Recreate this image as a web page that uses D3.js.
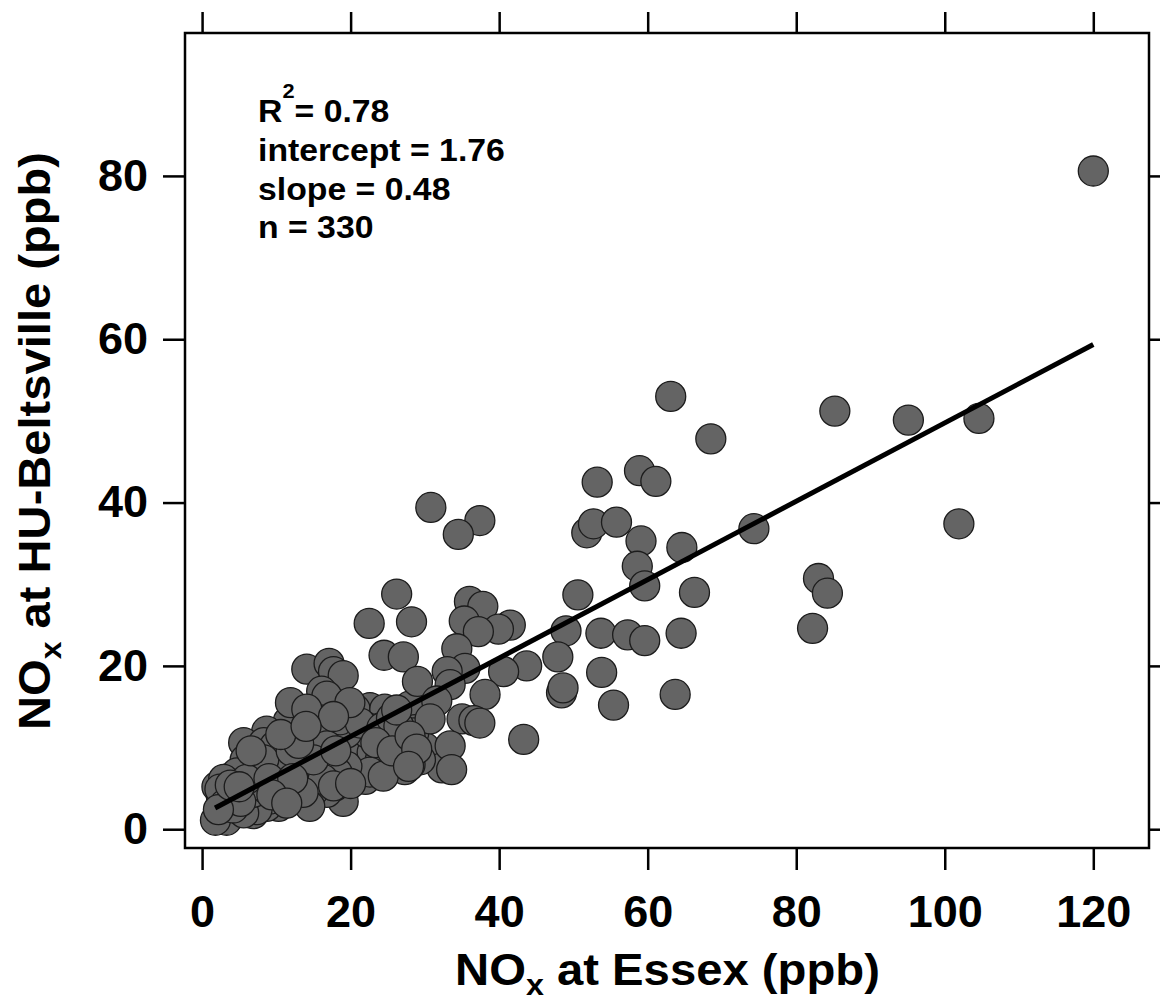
<!DOCTYPE html>
<html>
<head>
<meta charset="utf-8">
<script src="https://cdn.jsdelivr.net/npm/d3@7"></script>
<style>
  body { margin: 0; background: #fff; }
  text { font-family: "Liberation Sans", Arial, sans-serif; font-weight: bold; fill: #000; }
</style>
</head>
<body>
<svg width="1160" height="1003"></svg>
<script>
// [NOx at Essex, NOx at HU-Beltsville] in ppb
const highPoints = [
  [120.0, 80.6], [104.6, 50.3], [95.1, 50.1], [85.2, 51.2], [63.1, 53.0], [68.5, 47.8],
  [53.2, 42.5], [58.9, 43.9], [61.1, 42.6], [51.8, 36.3], [52.7, 37.4], [55.8, 37.6],
  [59.1, 35.3], [64.6, 34.5], [74.3, 36.8], [101.9, 37.4], [58.6, 32.2], [59.6, 29.8],
  [50.6, 28.7], [66.3, 29.0], [83.0, 30.7], [84.2, 28.9], [82.2, 24.6],
  [30.8, 39.4], [37.4, 37.8], [34.5, 36.1]
];

const midPoints = [
  [49.0, 24.3], [53.7, 24.0], [57.3, 23.8], [59.6, 23.1], [64.5, 24.0], [47.9, 21.1],
  [53.8, 19.2], [48.4, 16.7], [48.6, 17.3], [55.4, 15.2], [63.7, 16.5],
  [26.2, 28.8], [22.5, 25.2], [28.2, 25.4], [36.0, 27.9], [37.8, 27.3], [35.3, 25.5],
  [41.5, 25.0], [39.9, 24.5], [37.2, 24.2], [34.3, 22.1], [24.5, 21.3], [27.1, 21.1],
  [43.7, 20.0], [40.6, 19.3], [35.4, 19.7], [33.0, 19.3], [29.0, 18.1], [38.1, 16.5],
  [33.4, 17.7], [31.6, 15.7], [30.7, 13.5], [35.0, 13.5], [36.6, 13.3], [37.4, 13.0],
  [43.3, 11.0], [28.0, 11.4], [28.9, 9.8], [33.4, 10.2], [33.6, 7.3], [27.8, 7.7]
];

const lowPoints = [
  [14.1, 19.6], [17.1, 20.3], [17.7, 19.3], [19.0, 18.8], [16.1, 16.9], [16.8, 15.0],
  [16.8, 16.3], [22.6, 14.9], [20.6, 14.7], [24.6, 14.7], [30.3, 14.9], [28.0, 15.1],
  [28.7, 12.2], [27.8, 11.2], [30.0, 10.0], [28.5, 8.6], [27.3, 7.3], [32.3, 7.5],
  [24.0, 12.4], [21.9, 12.6], [21.3, 9.2], [18.1, 11.0], [18.8, 12.0], [16.6, 12.0],
  [15.7, 10.8], [11.6, 13.2], [10.1, 10.0], [8.7, 12.0], [5.6, 10.6], [8.3, 10.6],
  [13.4, 7.7], [12.5, 4.4], [16.1, 5.8], [19.0, 3.4], [14.3, 4.0], [10.3, 2.8],
  [8.7, 2.8], [6.9, 3.6], [4.4, 4.0], [3.1, 4.4], [2.0, 5.2], [3.3, 1.1],
  [1.8, 1.1], [6.9, 1.9], [3.5, 6.2], [2.6, 4.0], [5.8, 8.5], [7.6, 7.7],
  [9.6, 8.9], [11.2, 7.3], [8.0, 6.1], [6.2, 5.3], [14.8, 8.5], [17.5, 8.9],
  [19.7, 7.3], [21.5, 7.7], [22.0, 6.1], [15.7, 5.3], [17.9, 5.3], [20.4, 10.2],
  [21.5, 8.8], [13.6, 8.9], [9.8, 10.2], [7.4, 8.5], [6.5, 7.7], [7.8, 6.9],
  [4.4, 4.5], [10.1, 6.5], [13.6, 6.5], [15.9, 7.7], [16.8, 6.9], [16.8, 4.5],
  [15.0, 4.7], [14.5, 2.8], [22.9, 9.4], [22.2, 11.8], [19.5, 11.8], [18.6, 13.4],
  [21.3, 13.0], [19.9, 15.5], [24.2, 12.4], [28.5, 11.8], [27.6, 10.2], [29.4, 8.5],
  [28.0, 7.9], [24.0, 8.5], [22.6, 7.0], [24.4, 6.5], [19.5, 7.7], [18.2, 6.9],
  [16.3, 6.1], [17.7, 5.3], [11.9, 8.1], [10.1, 7.7], [8.3, 8.5], [13.6, 4.5],
  [10.5, 3.7], [9.2, 3.7], [7.4, 2.4], [5.6, 2.0], [6.9, 4.5], [8.7, 4.9],
  [10.5, 5.3], [4.7, 6.9], [2.9, 6.1], [2.4, 4.9], [6.0, 6.1], [12.8, 11.0],
  [15.0, 12.2], [15.9, 13.4], [16.8, 10.2], [15.0, 8.5], [11.9, 15.5], [14.1, 14.7],
  [17.7, 13.8], [25.5, 13.6], [26.5, 12.6], [23.4, 10.6], [25.6, 9.6], [26.2, 14.6],
  [3.0, 3.0], [4.2, 2.6], [5.2, 3.4], [9.0, 6.2], [11.0, 5.0], [12.0, 9.6],
  [13.0, 10.5], [10.6, 11.6], [6.6, 9.6], [20.0, 5.6], [18.0, 9.6], [14.0, 12.6],
  [2.2, 2.4], [3.8, 5.4], [5.0, 5.2], [12.2, 6.2], [9.4, 4.2], [11.4, 3.2]
];

const xTicks = [0, 20, 40, 60, 80, 100, 120];
const yTicks = [0, 20, 40, 60, 80];
const rSquared = '0.78';
const statLines = ['intercept = 1.76', 'slope = 0.48', 'n = 330'];
const fitIntercept = 1.76;
const fitSlope = 0.48;
const fitRange = [1.75, 120];

const frameLeft = 185, frameRight = 1149, frameTop = 33, frameBottom = 848;

const svg = d3.select('svg');

const x = d3.scaleLinear().domain([-2.3, 127.5]).range([frameLeft, frameRight]);
const y = d3.scaleLinear().domain([-2.3, 97.5]).range([frameBottom, frameTop]);

// stretch a text horizontally so it spans the given width
function stretch(g, width) {
  const w = g.select('text').node().getBBox().width;
  const t = g.attr('transform');
  g.attr('transform', t + ' scale(' + (width / w) + ',1)');
}

// points
svg.append('g')
  .selectAll('circle')
  .data(lowPoints.concat(midPoints, highPoints))
  .enter()
  .append('circle')
  .attr('cx', function(d) { return x(d[0]); })
  .attr('cy', function(d) { return y(d[1]); })
  .attr('r', 15)
  .attr('fill', '#646464')
  .attr('stroke', '#1c1c1c')
  .attr('stroke-width', 1.3);

// regression line
const line = d3.line()
  .x(function(d) { return x(d); })
  .y(function(d) { return y(fitIntercept + fitSlope * d); });

svg.append('path')
  .datum(fitRange)
  .attr('d', line)
  .attr('fill', 'none')
  .attr('stroke', '#000')
  .attr('stroke-width', 5);

// axes
function styleAxis(g) {
  g.select('.domain').remove();
  g.selectAll('line').attr('stroke', '#000').attr('stroke-width', 2.5);
  g.selectAll('text')
    .attr('font-family', '"Liberation Sans", Arial, sans-serif')
    .attr('font-weight', 'bold')
    .attr('font-size', 45)
    .attr('fill', '#000');
}

svg.append('g')
  .attr('transform', 'translate(0,' + frameBottom + ')')
  .call(d3.axisBottom(x).tickValues(xTicks).tickSize(22).tickPadding(25))
  .call(styleAxis);

svg.append('g')
  .attr('transform', 'translate(0,' + frameTop + ')')
  .call(d3.axisTop(x).tickValues(xTicks).tickSize(21).tickFormat(''))
  .call(styleAxis);

svg.append('g')
  .attr('transform', 'translate(' + frameLeft + ',0)')
  .call(d3.axisLeft(y).tickValues(yTicks).tickSize(22).tickPadding(15))
  .call(styleAxis);

svg.append('g')
  .attr('transform', 'translate(' + frameRight + ',0)')
  .call(d3.axisRight(y).tickValues(yTicks).tickSize(21).tickFormat(''))
  .call(styleAxis);

// frame
svg.append('rect')
  .attr('x', frameLeft)
  .attr('y', frameTop)
  .attr('width', frameRight - frameLeft)
  .attr('height', frameBottom - frameTop)
  .attr('fill', 'none')
  .attr('stroke', '#000')
  .attr('stroke-width', 2.5);

// axis titles
const xTitle = svg.append('g').attr('transform', 'translate(455,985)');
const xt = xTitle.append('text').attr('font-size', 44);
xt.append('tspan').text('NO');
xt.append('tspan').attr('font-size', 30).attr('dy', 10).text('x');
xt.append('tspan').attr('dy', -10).text(' at Essex (ppb)');
stretch(xTitle, 425);

const yTitle = svg.append('g').attr('transform', 'translate(50,730) rotate(-90)');
const yt = yTitle.append('text').attr('font-size', 44);
yt.append('tspan').text('NO');
yt.append('tspan').attr('font-size', 30).attr('dy', 11).text('x');
yt.append('tspan').attr('dy', -11).text(' at HU-Beltsville (ppb)');
stretch(yTitle, 578);

// fit statistics
const stats = svg.append('g').attr('transform', 'translate(258,0)');
const r2 = stats.append('text').attr('y', 122).attr('font-size', 31);
r2.append('tspan').text('R');
r2.append('tspan').attr('font-size', 20).attr('dy', -24).text('2');
r2.append('tspan').attr('dy', 24).text('= ' + rSquared);

stats.selectAll('text.stat')
  .data(statLines)
  .enter()
  .append('text')
  .classed('stat', true)
  .attr('y', function(d, i) { return 161.5 + i * 38.5; })
  .attr('font-size', 31)
  .text(function(d) { return d; });

const widest = stats.selectAll('text.stat').nodes()[0].getBBox().width;
stats.attr('transform', 'translate(258,0) scale(' + (247 / widest) + ',1)');
</script>
</body>
</html>
